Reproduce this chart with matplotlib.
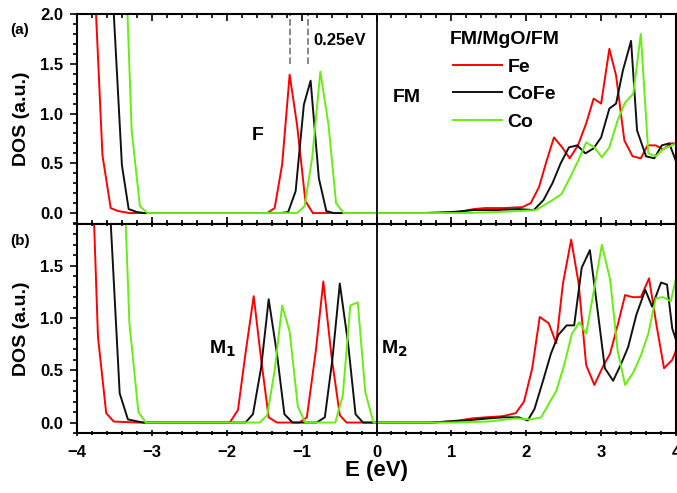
import numpy as np
import matplotlib
matplotlib.use("Agg")
import matplotlib.pyplot as plt
from matplotlib.ticker import MultipleLocator

plt.rcParams['font.family'] = ['Liberation Sans', 'DejaVu Sans']
plt.rcParams['font.weight'] = 'bold'

# ---- panel (a): FM ----
fe_a_E = [-3.77, -3.66, -3.55, -3.45, -3.3, -1.46, -1.36, -1.26, -1.16, -1.06, -0.95, -0.85,
          0.8, 1.1, 1.3, 1.45, 1.7, 1.95, 2.06, 2.17, 2.27, 2.37, 2.48, 2.58, 2.69, 2.80,
          2.90, 3.00, 3.11, 3.20, 3.31, 3.42, 3.53, 3.62, 3.73, 3.83, 3.93, 4.0]
fe_a = [2.4, 0.58, 0.05, 0.02, 0.0, 0.0, 0.05, 0.49, 1.39, 0.88, 0.12, 0.0,
        0.0, 0.01, 0.04, 0.05, 0.05, 0.06, 0.10, 0.26, 0.52, 0.76, 0.66, 0.55, 0.68, 0.90,
        1.15, 1.10, 1.65, 1.38, 0.73, 0.57, 0.55, 0.68, 0.68, 0.64, 0.70, 0.70]

cofe_a_E = [-3.53, -3.40, -3.31, -3.2, -3.1, -1.28, -1.18, -1.08, -0.97, -0.88, -0.77, -0.67, -0.57,
            0.6, 1.0, 1.3, 1.6, 1.9, 2.1, 2.23, 2.35, 2.46, 2.57, 2.68, 2.79, 2.90, 3.0,
            3.11, 3.20, 3.29, 3.40, 3.48, 3.60, 3.71, 3.81, 3.91, 3.97, 4.0]
cofe_a = [2.3, 0.48, 0.04, 0.01, 0.0, 0.0, 0.01, 0.22, 1.09, 1.33, 0.35, 0.02, 0.0,
          0.0, 0.01, 0.03, 0.03, 0.04, 0.03, 0.13, 0.30, 0.50, 0.66, 0.68, 0.60, 0.65, 0.76,
          1.05, 1.10, 1.43, 1.73, 0.83, 0.57, 0.55, 0.68, 0.70, 0.58, 0.52]

co_a_E = [-3.34, -3.27, -3.16, -3.06, -1.06, -0.96, -0.86, -0.75, -0.64, -0.54, -0.44,
          1.2, 1.6, 1.9, 2.13, 2.24, 2.35, 2.47, 2.58, 2.69, 2.80, 2.91, 3.01, 3.11,
          3.22, 3.32, 3.43, 3.53, 3.63, 3.73, 3.84, 3.95, 4.0]
co_a = [2.3, 0.83, 0.07, 0.0, 0.0, 0.07, 0.55, 1.42, 0.88, 0.10, 0.0,
        0.0, 0.01, 0.02, 0.03, 0.08, 0.13, 0.19, 0.35, 0.52, 0.71, 0.66, 0.56, 0.66,
        0.93, 1.11, 1.20, 1.80, 0.60, 0.57, 0.65, 0.68, 0.70]

# ---- panel (b): M1 / M2 ----
fe_b_E = [-3.80, -3.72, -3.61, -3.51, -3.2, -1.96, -1.85, -1.75, -1.64, -1.54, -1.44, -1.33,
          -1.03, -0.93, -0.81, -0.71, -0.60, -0.49, -0.40, 0.8, 1.1, 1.28, 1.46, 1.68, 1.86,
          1.97, 2.08, 2.18, 2.30, 2.40, 2.49, 2.60, 2.70, 2.80, 2.91, 3.02, 3.12, 3.22, 3.32,
          3.42, 3.53, 3.64, 3.74, 3.84, 3.95, 4.0]
fe_b = [2.5, 0.82, 0.09, 0.01, 0.0, 0.0, 0.12, 0.66, 1.21, 0.60, 0.05, 0.0,
        0.0, 0.05, 0.69, 1.35, 0.63, 0.07, 0.0, 0.0, 0.02, 0.04, 0.05, 0.06, 0.09,
        0.20, 0.52, 1.01, 0.95, 0.76, 1.33, 1.75, 1.33, 0.55, 0.36, 0.53, 0.66, 0.93, 1.22,
        1.20, 1.20, 1.38, 0.93, 0.52, 0.60, 0.69]

cofe_b_E = [-3.60, -3.43, -3.32, -3.12, -1.75, -1.65, -1.54, -1.44, -1.33, -1.23, -1.12,
            -0.80, -0.69, -0.59, -0.49, -0.38, -0.28, -0.18, 0.7, 1.2, 1.5, 1.7, 1.9, 2.02,
            2.11, 2.22, 2.33, 2.43, 2.54, 2.64, 2.74, 2.85, 2.95, 3.05, 3.16, 3.26, 3.36,
            3.47, 3.59, 3.68, 3.80, 3.88, 3.95, 4.0]
cofe_b = [2.6, 0.28, 0.03, 0.0, 0.0, 0.08, 0.53, 1.18, 0.66, 0.08, 0.0,
          0.0, 0.05, 0.60, 1.33, 0.76, 0.08, 0.0, 0.0, 0.02, 0.04, 0.05, 0.05, 0.02,
          0.13, 0.39, 0.66, 0.84, 0.93, 0.93, 1.48, 1.65, 1.09, 0.52, 0.40, 0.55, 0.72,
          1.03, 1.27, 1.11, 1.34, 1.32, 0.90, 0.79]

co_b_E = [-3.38, -3.30, -3.18, -3.08, -1.56, -1.46, -1.36, -1.26, -1.16, -1.05, -0.95,
          -0.55, -0.45, -0.35, -0.25, -0.15, -0.04, 1.0, 1.5, 1.86, 2.06, 2.2, 2.30, 2.40,
          2.51, 2.61, 2.71, 2.80, 2.91, 3.01, 3.12, 3.22, 3.32, 3.43, 3.53, 3.63, 3.73,
          3.83, 3.93, 4.0]
co_b = [2.5, 0.95, 0.10, 0.0, 0.0, 0.07, 0.50, 1.12, 0.87, 0.15, 0.0,
        0.0, 0.26, 1.12, 1.15, 0.29, 0.0, 0.0, 0.01, 0.04, 0.03, 0.05, 0.18, 0.30,
        0.56, 0.85, 0.96, 0.85, 1.29, 1.70, 1.37, 0.69, 0.36, 0.48, 0.64, 0.85, 1.19,
        1.20, 1.16, 1.38]

dashed_x = [-1.16, -0.91]

RED = '#ff0000'
BLACK = '#111111'
GREEN = '#66ee11'
lw = 1.4

fig = plt.figure(figsize=(6.77, 4.93), dpi=100)
ax1 = fig.add_axes([77/677, 1-224/493, 599/677, 210/493])
ax2 = fig.add_axes([77/677, 1-433/493, 599/677, 209/493])

ax1.plot(fe_a_E, fe_a, color=RED, lw=lw, label='Fe')
ax1.plot(cofe_a_E, cofe_a, color=BLACK, lw=lw, label='CoFe')
ax1.plot(co_a_E, co_a, color=GREEN, lw=lw, label='Co')
ax2.plot(fe_b_E, fe_b, color=RED, lw=lw)
ax2.plot(cofe_b_E, cofe_b, color=BLACK, lw=lw)
ax2.plot(co_b_E, co_b, color=GREEN, lw=lw)

ax1.set_ylim(-0.11, 2.0)
ax2.set_ylim(-0.1, 1.9)
for ax in (ax1, ax2):
    ax.set_xlim(-4, 4)
    ax.axvline(0, color='black', lw=1.3)
    ax.xaxis.set_major_locator(MultipleLocator(1))
    ax.xaxis.set_minor_locator(MultipleLocator(0.2))
    ax.yaxis.set_major_locator(MultipleLocator(0.5))
    ax.yaxis.set_minor_locator(MultipleLocator(0.1))
    ax.yaxis.set_major_formatter(matplotlib.ticker.FormatStrFormatter('%.1f'))
    for s in ax.spines.values():
        s.set_linewidth(1.5)
    ax.tick_params(which='both', width=1.2, labelsize=12)
    ax.tick_params(which='major', length=5)
    ax.tick_params(which='minor', length=3)
    ax.yaxis.set_ticks_position('both')
    ax.tick_params(axis='y', which='both', direction='out', pad=5)
    ax.set_ylabel('DOS (a.u.)', fontsize=14, fontweight='bold')
    ax.yaxis.set_label_coords(-0.078, 0.5)
    for lab in ax.get_yticklabels():
        lab.set_fontweight('bold')

ax1.tick_params(axis='x', which='both', top=True, bottom=True, direction='in', labelbottom=False)
ax2.tick_params(axis='x', which='both', top=True, bottom=True, direction='out', pad=6)
ax2.tick_params(axis='x', which='both', top=True, direction='inout')
ax2.set_xlabel('E (eV)', fontsize=16, fontweight='bold', labelpad=0)
for lab in ax2.get_xticklabels():
    lab.set_fontweight('bold')

ax1.vlines(dashed_x, 1.5, 2.0, colors='gray', linestyles='--', lw=1.3)
ax1.text(-0.84, 1.69, '0.25eV', fontsize=12, fontweight='bold')
ax1.text(-1.66, 0.78, 'F', fontsize=14, fontweight='bold', va='center')
ax1.text(0.22, 1.16, 'FM', fontsize=14, fontweight='bold', va='center')
ax2.text(-2.24, 0.71, r'M$_\mathbf{1}$', fontsize=14, fontweight='bold', va='center')
ax2.text(0.06, 0.71, r'M$_\mathbf{2}$', fontsize=14, fontweight='bold', va='center')

leg = ax1.legend(loc='upper left', bbox_to_anchor=(0.622, 0.92), frameon=False,
                 prop={'weight': 'bold', 'size': 14}, handlelength=2.5, handletextpad=0.3,
                 labelspacing=0.52, borderpad=0, borderaxespad=0,
                 title='FM/MgO/FM', title_fontproperties={'weight': 'bold', 'size': 14})

fig.text(10/677, 1-30/493, '(a)', fontsize=11, fontweight='bold', va='center')
fig.text(10/677, 1-241/493, '(b)', fontsize=11, fontweight='bold', va='center')

fig.savefig('out.png', dpi=100)
